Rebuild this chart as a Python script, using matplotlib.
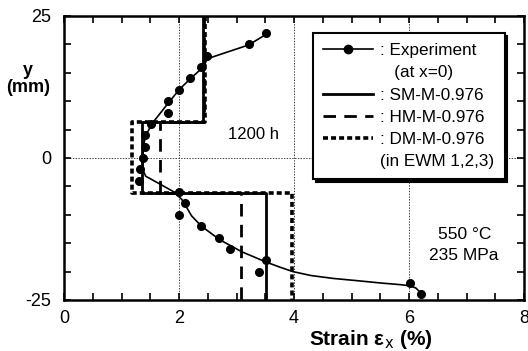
import matplotlib
matplotlib.use("Agg")
import matplotlib.pyplot as plt
from matplotlib.lines import Line2D

plt.rcParams['font.family'] = ['Liberation Sans', 'DejaVu Sans']
plt.rcParams['lines.scale_dashes'] = False
plt.rcParams['axes.unicode_minus'] = False

# Measured strain distribution at x = 0
exp_y = [22, 20, 18, 16, 14, 12, 10, 8, 6, 4, 2, 0, -2, -4,
         -6, -8, -10, -12, -14, -16, -18, -20, -22, -24]
exp_strain = [3.52, 3.21, 2.49, 2.38, 2.19, 2.00, 1.80, 1.80, 1.51, 1.40, 1.40, 1.38, 1.32, 1.31,
              2.00, 2.10, 2.00, 2.39, 2.69, 2.89, 3.51, 3.39, 6.02, 6.21]

# Fitted curve through the measurements
fit_strain = [3.52, 3.21, 2.50, 2.40, 2.19, 2.00, 1.80, 1.55, 1.42, 1.38, 1.37, 1.37,
              1.42, 1.67, 1.90, 2.05, 2.15, 2.22, 2.39, 2.71, 3.09, 3.51, 3.75, 3.98,
              4.30, 4.68, 5.10, 5.50, 5.85, 6.02, 6.12, 6.18, 6.21]
fit_y = [21.8, 19.9, 17.5, 15.8, 13.9, 12.0, 9.5, 6.3, 4.0, 2.0, 0.0, -2.0,
         -3.2, -4.6, -5.9, -7.3, -9.0, -10.2, -12.0, -14.4, -16.5, -18.3, -19.2, -20.0,
         -20.7, -21.2, -21.6, -22.0, -22.3, -22.5, -22.9, -23.5, -24.4]

# Element-wise model (EWM 1, 2, 3) strains; region boundaries in y
region_edges = [25, 6.25, -6.25, -25]
sm_strain = [2.42, 1.35, 3.52]
hm_strain = [2.44, 1.67, 3.08]
dm_strain = [2.46, 1.18, 3.97]

model_labels = [': SM-M-0.976', ': HM-M-0.976', ': DM-M-0.976']


def step_path(vals, edges):
    xs, ys = [], []
    for i, v in enumerate(vals):
        xs += [v, v]
        ys += [edges[i], edges[i + 1]]
    return xs, ys


fig = plt.figure(figsize=(5.28, 3.51), dpi=100)
ax = fig.add_axes([64 / 528, 51 / 351, 460 / 528, 284 / 351])

ax.set_xlim(0, 8)
ax.set_ylim(-25, 25)

# grid at major ticks
ax.set_xticks([0, 2, 4, 6, 8])
ax.set_yticks([-25, 0, 25])
ax.set_xticks([i * 0.5 for i in range(17)], minor=True)
ax.set_yticks([-25 + 5 * i for i in range(11)], minor=True)
ax.grid(True, which='major', linestyle=(0, (1, 1)), linewidth=0.7, color='0.25')
ax.set_axisbelow(True)

ax.tick_params(which='both', direction='in', top=True, right=True,
               length=5, width=1.2, labelsize=13)
ax.tick_params(axis='x', pad=7)
ax.tick_params(axis='y', pad=9)
for s in ax.spines.values():
    s.set_linewidth(1.8)

styles = [
    dict(color='k', lw=2.0, linestyle='-'),
    dict(color='k', lw=2.0, dashes=(9, 6)),
    dict(color='k', lw=2.6, dashes=(3.6, 2.2)),
]
for vals, st in zip([sm_strain, hm_strain, dm_strain], styles):
    xs, ys = step_path(vals, region_edges)
    ax.plot(xs, ys, solid_capstyle='butt', dash_capstyle='butt', **st)

ax.plot(fit_strain, fit_y, color='k', lw=1.2)
ax.plot(exp_strain, exp_y, linestyle='none', marker='o', ms=5.5, color='k')

ax.text(3.30, 4.2, '1200 h', fontsize=12, ha='center', va='center')
ax.text(6.96, -13.4, '550 °C', fontsize=12.5, ha='center', va='center')
ax.text(6.96, -17.1, '235 MPa', fontsize=12.5, ha='center', va='center')

ax.set_xlabel('Strain ε$_{\\mathrm{x}}$ (%)', fontsize=15, fontweight='bold')
ax.xaxis.set_label_coords((371 - 64) / 460, -0.098)
fig.text(28 / 528, 1 - 79 / 351, 'y\n(mm)', fontsize=13, fontweight='bold',
         ha='center', va='center', linespacing=1.0)

blank = Line2D([], [], linestyle='none')
handles = [
    Line2D([], [], color='k', lw=1.2, marker='o', ms=6),
    blank,
    Line2D([], [], **styles[0]),
    Line2D([], [], **styles[1]),
    Line2D([], [], **styles[2]),
    blank,
]
labels = [': Experiment', '   (at x=0)'] + model_labels + ['(in EWM 1,2,3)']
leg = ax.legend(handles, labels, loc='upper left', bbox_to_anchor=(0.541, 0.940),
                borderaxespad=0, fontsize=12.3, handlelength=2.9, handletextpad=0.45,
                labelspacing=0.42, borderpad=0.6, fancybox=False, framealpha=1,
                edgecolor='k', shadow={'color': 'k', 'alpha': 1.0})
leg.get_frame().set_linewidth(1.5)

fig.savefig('out.png', dpi=100)
